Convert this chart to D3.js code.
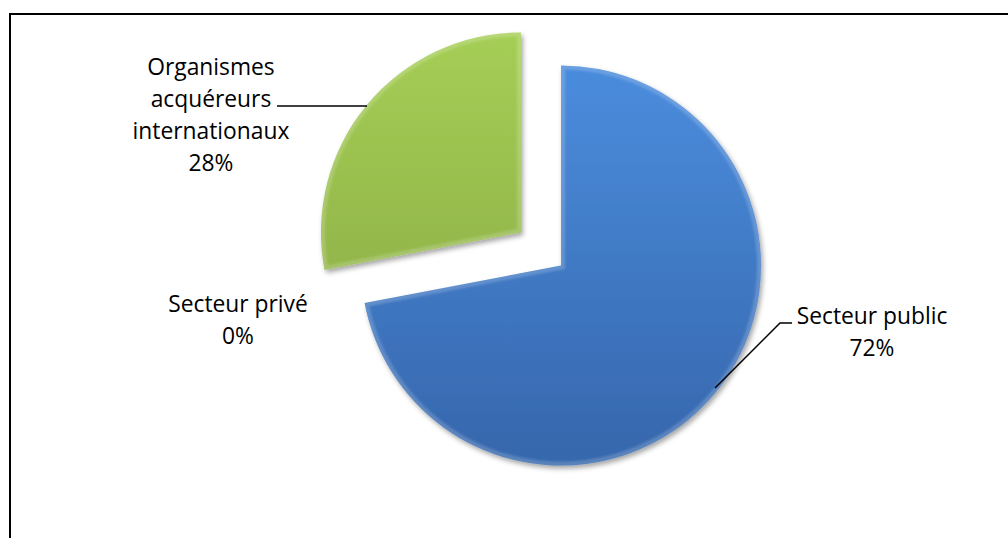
<!DOCTYPE html>
<html>
<head>
<meta charset="utf-8">
<script src="https://cdn.jsdelivr.net/npm/d3@7"></script>
<style>
  body { margin: 0; background: #fff; }
  svg { display: block; }
  text { font-family: "Open Sans", Lato, sans-serif; font-size: 22.8px; fill: #000; font-variant-ligatures: none; }
</style>
</head>
<body>
<div id="chart"></div>
<script>
// data
var categories = ["Secteur public", "Secteur privé", "Organismes acquéreurs internationaux"];
var values = [72, 0, 28];
var labelLines = [
  ["Secteur public", "72%"],
  ["Secteur privé", "0%"],
  ["Organismes", "acquéreurs", "internationaux", "28%"]
];

var width = 1008, height = 538;
var cx = 541, cy = 249;
var radius = 200;
var explode = 26;
var lineGap = 32;

var colors = [
  {top: "#4a8bdb", bottom: "#3565aa"},
  {top: "#999999", bottom: "#777777"},
  {top: "#a6d056", bottom: "#88a744"}
];

// label anchors (centre x, first baseline) and leader lines
var labelPos = [
  {x: 872, y: 324, leader: [[792, 323], [780, 323], [715, 388]]},
  {x: 238, y: 312, leader: null},
  {x: 211, y: 75,  leader: [[277, 106], [367, 106]]}
];

var svg = d3.select("#chart").append("svg")
  .attr("width", width)
  .attr("height", height);

// chart frame: only top and left edges are in view
svg.append("path")
  .attr("d", "M10,539 L10,14 L1010,14")
  .attr("fill", "none")
  .attr("stroke", "#000")
  .attr("stroke-width", 2);

var defs = svg.append("defs");

var shadow = defs.append("filter")
  .attr("id", "shadow")
  .attr("x", "-20%").attr("y", "-20%")
  .attr("width", "140%").attr("height", "140%");
shadow.append("feDropShadow")
  .attr("dx", 2).attr("dy", 3)
  .attr("stdDeviation", 2.5)
  .attr("flood-color", "#000")
  .attr("flood-opacity", 0.35);

var soft = defs.append("filter").attr("id", "soft");
soft.append("feGaussianBlur").attr("stdDeviation", 1.2);

var pie = d3.pie()
  .sort(null)
  .value(function(d) { return d; });

var arc = d3.arc()
  .innerRadius(0)
  .outerRadius(radius);

var slices = pie(values);

var g = svg.append("g")
  .attr("transform", "translate(" + cx + "," + cy + ")");

slices.forEach(function(d, i) {
  if (d.endAngle - d.startAngle <= 0) return;
  var mid = (d.startAngle + d.endAngle) / 2;
  var dx = Math.sin(mid) * explode;
  var dy = -Math.cos(mid) * explode;

  var grad = defs.append("linearGradient")
    .attr("id", "grad" + i)
    .attr("gradientUnits", "userSpaceOnUse")
    .attr("x1", 0).attr("y1", -radius + dy)
    .attr("x2", 0).attr("y2", radius + dy);
  grad.append("stop").attr("offset", "0%").attr("stop-color", colors[i].top);
  grad.append("stop").attr("offset", "100%").attr("stop-color", colors[i].bottom);

  defs.append("clipPath")
    .attr("id", "clip" + i)
    .append("path")
    .attr("d", arc(d));

  var sg = g.append("g")
    .attr("transform", "translate(" + dx + "," + dy + ")");

  sg.append("path")
    .attr("d", arc(d))
    .attr("fill", "url(#grad" + i + ")")
    .attr("filter", "url(#shadow)");

  // bevel rim
  sg.append("g")
    .attr("clip-path", "url(#clip" + i + ")")
    .append("path")
    .attr("d", arc(d))
    .attr("fill", "none")
    .attr("stroke", "#fff")
    .attr("stroke-opacity", 0.18)
    .attr("stroke-width", 8)
    .attr("stroke-linejoin", "miter")
    .attr("filter", "url(#soft)");
});

// leader lines
labelPos.forEach(function(p) {
  if (!p.leader) return;
  svg.append("path")
    .attr("d", d3.line()(p.leader))
    .attr("fill", "none")
    .attr("stroke", "#000")
    .attr("stroke-width", 1.5);
});

// labels
labelLines.forEach(function(lines, i) {
  var t = svg.append("text")
    .attr("text-anchor", "middle")
    .attr("x", labelPos[i].x)
    .attr("y", labelPos[i].y);
  lines.forEach(function(line, j) {
    t.append("tspan")
      .attr("x", labelPos[i].x)
      .attr("dy", j === 0 ? 0 : lineGap)
      .text(line);
  });
});
</script>
</body>
</html>
